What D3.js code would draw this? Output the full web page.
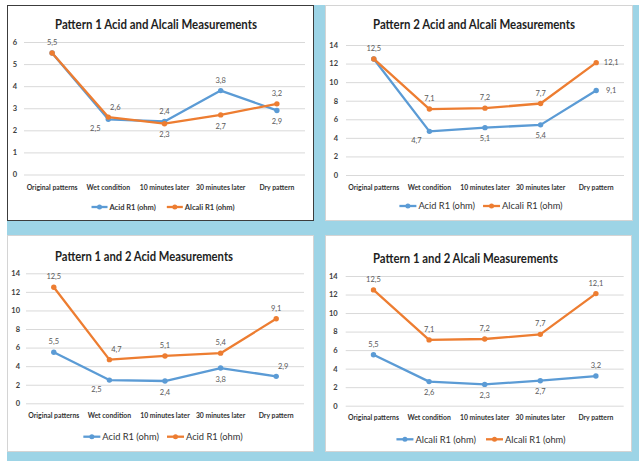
<!DOCTYPE html>
<html>
<head>
<meta charset="utf-8">
<script src="https://cdn.jsdelivr.net/npm/d3@7"></script>
<style>
  body { margin: 0; background: #fff; }
  svg { display: block; }
  text { font-family: Lato, "Open Sans", "Liberation Sans", sans-serif; }
</style>
</head>
<body>
<svg id="chart" width="639" height="461"></svg>
<script>
// Measurement stages shared by all four charts
const categories = ["Original patterns", "Wet condition", "10 minutes later", "30 minutes later", "Dry pattern"];

// Resistance readings (ohm)
const pattern1Acid   = [5.5, 2.5, 2.4, 3.8, 2.9];
const pattern1Alcali = [5.5, 2.6, 2.3, 2.7, 3.2];
const pattern2Acid   = [12.5, 4.7, 5.1, 5.4, 9.1];
const pattern2Alcali = [12.5, 7.1, 7.2, 7.7, 12.1];

// Y-axis tick values
const ticksPattern1 = [0, 1, 2, 3, 4, 5, 6];
const ticksCombined = [0, 2, 4, 6, 8, 10, 12, 14];

const titles = [
  "Pattern 1 Acid and Alcali Measurements",
  "Pattern 2 Acid and Alcali Measurements",
  "Pattern 1 and 2 Acid Measurements",
  "Pattern 1 and 2 Alcali Measurements"
];

const BLUE = "#5b9bd5", ORANGE = "#ed7d31";

// Label placement per point: a = above, b = below, r = right,
// bl = below-left, ar = above-right, n = hidden (shared value)
const panels = [
  { x: 7, y: 5, w: 307, h: 216, border: "#3c3c3c", title: titles[0], titleX: 149, titleY: 24, titleW: 202,
    plotL: 17, plotR: 298, y0: 169.5, y1: 37, yMax: 6, ticks: ticksPattern1, tickPad: 7,
    catY: 184.5, legY: 202, legFont: 7.5, legLine: 16, legGap: 11,
    series: [
      { name: "Acid R1 (ohm)", values: pattern1Acid, color: BLUE, place: ["a", "bl", "a", "a", "b"] },
      { name: "Alcali R1 (ohm)", values: pattern1Alcali, color: ORANGE, place: ["n", "ar", "b", "b", "a"] }
    ] },
  { x: 325, y: 5, w: 308, h: 216, border: "#d4d4d4", title: titles[1], titleX: 149, titleY: 24, titleW: 202,
    plotL: 21, plotR: 299, y0: 170, y1: 40, yMax: 14, ticks: ticksCombined, tickPad: 8,
    catY: 184.5, legY: 201, legFont: 9.3, legLine: 17, legGap: 8,
    series: [
      { name: "Acid R1 (ohm)", values: pattern2Acid, color: BLUE, place: ["a", "bl", "b", "b", "r"] },
      { name: "Alcali R1 (ohm)", values: pattern2Alcali, color: ORANGE, place: ["n", "a", "a", "a", "r"] }
    ] },
  { x: 7, y: 235, w: 307, h: 217, border: "#d4d4d4", title: titles[2], titleX: 137, titleY: 26, titleW: 178,
    plotL: 19, plotR: 297, y0: 168.3, y1: 38.3, yMax: 14, ticks: ticksCombined, tickPad: 6,
    catY: 183.2, legY: 201.7, legFont: 9.3, legLine: 17, legGap: 8,
    series: [
      { name: "Acid R1 (ohm)", values: pattern1Acid, color: BLUE, place: ["a", "bl", "b", "b", "ar"] },
      { name: "Acid R1 (ohm)", values: pattern2Acid, color: ORANGE, place: ["a", "ar", "a", "a", "a"] }
    ] },
  { x: 325, y: 235, w: 307, h: 217, border: "#d4d4d4", title: titles[3], titleX: 140.5, titleY: 28, titleW: 185,
    plotL: 20.7, plotR: 298.7, y0: 170.7, y1: 41, yMax: 14, ticks: ticksCombined, tickPad: 8,
    catY: 184.8, legY: 204.3, legFont: 9.3, legLine: 17, legGap: 10,
    series: [
      { name: "Alcali R1 (ohm)", values: pattern1Alcali, color: BLUE, place: ["a", "b", "b", "b", "a"] },
      { name: "Alcali R1 (ohm)", values: pattern2Alcali, color: ORANGE, place: ["a", "a", "a", "a", "a"] }
    ] }
];

const labelOffset = {
  a:  [0, -10.5],
  b:  [0, 11],
  r:  [15, 0],
  bl: [-13, 9.5],
  ar: [7, -10]
};

const svg = d3.select("#chart");

// Light-blue backdrop behind the four charts
svg.append("rect").attr("x", 7).attr("y", 5).attr("width", 632).attr("height", 456).attr("fill", "#9dd4e6");

panels.forEach(p => {
  const g = svg.append("g").attr("transform", `translate(${p.x},${p.y})`);

  g.append("rect")
    .attr("x", 0.5).attr("y", 0.5)
    .attr("width", p.w - 1).attr("height", p.h - 1)
    .attr("fill", "#fff").attr("stroke", p.border).attr("stroke-width", 1);

  const x = d3.scalePoint().domain(categories).range([p.plotL, p.plotR]).padding(0.5);
  const y = d3.scaleLinear().domain([0, p.yMax]).range([p.y0, p.y1]);

  // Gridlines + value ticks
  const yAxis = g.append("g")
    .attr("transform", `translate(${p.plotL},0)`)
    .call(d3.axisLeft(y).tickValues(p.ticks).tickFormat(d3.format("d"))
      .tickSizeInner(-(p.plotR - p.plotL)).tickSizeOuter(0).tickPadding(p.tickPad));
  yAxis.select(".domain").remove();
  yAxis.selectAll(".tick line").attr("stroke", "#d9d9d9").attr("stroke-width", 1);
  yAxis.selectAll(".tick text")
    .attr("fill", "#404040").attr("font-size", 7.5).attr("font-weight", "bold")
    .style("font-family", "Lato, sans-serif");

  // Category labels, slightly condensed so neighbours keep a gap
  g.append("g").selectAll("text").data(categories).join("text")
    .attr("x", d => x(d)).attr("y", p.catY)
    .attr("text-anchor", "middle")
    .attr("font-size", 7.6).attr("font-weight", "bold").attr("fill", "#333")
    .text(d => d)
    .each(function () {
      const w = this.getComputedTextLength();
      d3.select(this).attr("textLength", w * 0.9).attr("lengthAdjust", "spacingAndGlyphs");
    });

  // Title
  g.append("text")
    .attr("x", p.titleX).attr("y", p.titleY)
    .attr("text-anchor", "middle")
    .attr("font-size", 12.5).attr("font-weight", "bold").attr("fill", "#1e1e1e")
    .attr("textLength", p.titleW).attr("lengthAdjust", "spacingAndGlyphs")
    .text(p.title);

  const line = d3.line().x((d, i) => x(categories[i])).y(d => y(d));

  p.series.forEach(s => {
    g.append("path").datum(s.values)
      .attr("d", line).attr("fill", "none")
      .attr("stroke", s.color).attr("stroke-width", 2.3)
      .attr("stroke-linejoin", "round").attr("stroke-linecap", "round");
    g.append("g").selectAll("circle").data(s.values).join("circle")
      .attr("cx", (d, i) => x(categories[i])).attr("cy", d => y(d))
      .attr("r", 2.7).attr("fill", s.color);
  });

  // Data labels (comma decimal separator)
  p.series.forEach(s => {
    g.append("g").selectAll("text")
      .data(s.values.map((v, i) => ({ v, i, pos: s.place[i] })).filter(d => d.pos !== "n"))
      .join("text")
      .attr("x", d => x(categories[d.i]) + labelOffset[d.pos][0])
      .attr("y", d => y(d.v) + labelOffset[d.pos][1])
      .attr("dy", "0.35em")
      .attr("text-anchor", "middle")
      .attr("font-size", 7.5).attr("fill", "#595959")
      .text(d => String(d.v).replace(".", ","));
  });

  // Legend, centred under the plot
  const leg = g.append("g");
  let cursor = 0;
  p.series.forEach((s, k) => {
    const item = leg.append("g").attr("transform", `translate(${cursor},0)`);
    item.append("line").attr("x1", 0).attr("x2", p.legLine)
      .attr("stroke", s.color).attr("stroke-width", 2.3);
    item.append("circle").attr("cx", p.legLine / 2).attr("r", 2.5).attr("fill", s.color);
    const t = item.append("text").attr("x", p.legLine + 2).attr("dy", "0.35em")
      .attr("font-size", p.legFont).attr("fill", "#333")
      .attr("font-weight", p.legFont < 8 ? "bold" : "normal")
      .text(s.name);
    cursor += p.legLine + 2 + t.node().getComputedTextLength() + (k < p.series.length - 1 ? p.legGap : 0);
  });
  leg.attr("transform", `translate(${156 - cursor / 2},${p.legY})`);
});
</script>
</body>
</html>
